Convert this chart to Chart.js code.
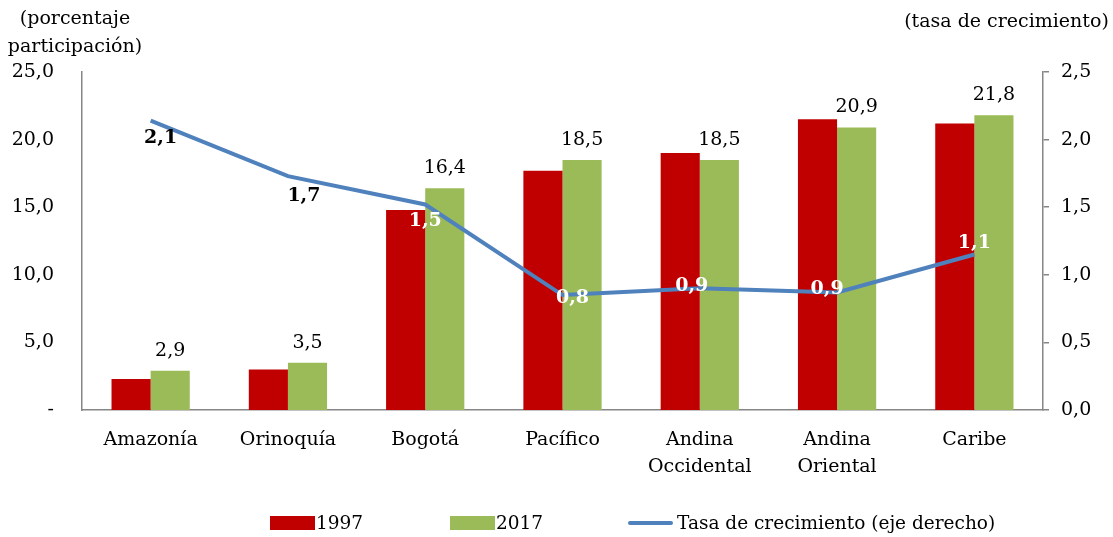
<!DOCTYPE html>
<html>
<head>
<meta charset="utf-8">
<script src="https://cdn.jsdelivr.net/npm/chart.js@4.4.0/dist/chart.umd.min.js"></script>
<style>
  body { margin: 0; background: #fff; }
  #wrap { position: relative; width: 1113px; height: 537px; font-family: "DejaVu Serif", serif; color: #000; }
  #chart { position: absolute; left: 0; top: 0; }
  .titulo { position: absolute; font-size: 19px; line-height: 28px; text-align: center; }
  .leyenda { position: absolute; top: 511px; font-size: 18.5px; line-height: 24px; }
  .caja { position: absolute; top: 5px; width: 45px; height: 14px; }
  .linea { position: absolute; top: 10px; width: 45px; height: 4px; background: #4F81BD; border-radius: 2px; }
</style>
</head>
<body>
<div id="wrap">
  <canvas id="chart" width="1113" height="537"></canvas>
  <div class="titulo" style="left:0px; top:3px; width:150px;">(porcentaje<br>participación)</div>
  <div class="titulo" style="left:900px; top:6px; width:213px;">(tasa de crecimiento)</div>
  <div class="leyenda" style="left:270px;"><span class="caja" style="left:0; background:#C00000;"></span><span style="position:absolute; left:46px;">1997</span></div>
  <div class="leyenda" style="left:450px;"><span class="caja" style="left:0; background:#9BBB59;"></span><span style="position:absolute; left:46px;">2017</span></div>
  <div class="leyenda" style="left:628px;"><span class="linea" style="left:0;"></span><span style="position:absolute; left:49px; white-space:nowrap;">Tasa de crecimiento (eje derecho)</span></div>
</div>
<script>
// datos
const categorias = ["Amazonía", "Orinoquía", "Bogotá", "Pacífico", ["Andina", "Occidental"], ["Andina", "Oriental"], "Caribe"];
const serie1997 = [2.3, 3.0, 14.8, 17.7, 19.0, 21.5, 21.2];
const serie2017 = [2.9, 3.5, 16.4, 18.5, 18.5, 20.9, 21.8];
const tasaCrecimiento = [2.14, 1.73, 1.52, 0.85, 0.90, 0.87, 1.15];
const tasaEtiquetas = ["2,1", "1,7", "1,5", "0,8", "0,9", "0,9", "1,1"];

const fuente = "DejaVu Serif";
const tam = 19;

// desplazamiento y color de las etiquetas de la linea (estilo, no datos)
const etiquetaOffsets = [[10, 17], [16, 20], [0, 17], [10, 3], [-8, -2], [-10, -3], [0, -11]];
const etiquetaColores = ["#000", "#000", "#fff", "#fff", "#fff", "#fff", "#fff"];

const coma = (v) => v.toFixed(1).replace(".", ",");

const etiquetasPlugin = {
  id: "etiquetas",
  afterDatasetsDraw(chart) {
    const ctx = chart.ctx;
    ctx.save();
    ctx.textAlign = "center";
    ctx.textBaseline = "middle";
    // valores sobre las barras 2017
    ctx.font = tam + "px '" + fuente + "'";
    ctx.fillStyle = "#000";
    chart.getDatasetMeta(1).data.forEach((bar, i) => {
      ctx.fillText(coma(serie2017[i]), bar.x, bar.y - 20);
    });
    // etiquetas de la tasa
    ctx.font = "bold " + tam + "px '" + fuente + "'";
    chart.getDatasetMeta(2).data.forEach((pt, i) => {
      ctx.fillStyle = etiquetaColores[i];
      ctx.fillText(tasaEtiquetas[i], pt.x + etiquetaOffsets[i][0], pt.y + etiquetaOffsets[i][1]);
    });
    ctx.restore();
  }
};

new Chart(document.getElementById("chart"), {
  type: "bar",
  data: {
    labels: categorias,
    datasets: [
      { label: "1997", data: serie1997, backgroundColor: "#C00000", yAxisID: "y", order: 2 },
      { label: "2017", data: serie2017, backgroundColor: "#9BBB59", yAxisID: "y", order: 2 },
      {
        type: "line", label: "Tasa de crecimiento (eje derecho)", data: tasaCrecimiento,
        borderColor: "#4F81BD", borderWidth: 4, pointRadius: 0, tension: 0, yAxisID: "y1", order: 1
      }
    ]
  },
  options: {
    responsive: false,
    animation: false,
    layout: { padding: { top: 72, bottom: 47, left: 0, right: 0 } },
    datasets: { bar: { categoryPercentage: 0.57, barPercentage: 1.0 } },
    plugins: { legend: { display: false }, tooltip: { enabled: false } },
    scales: {
      x: {
        grid: { display: false },
        border: { color: "#868686", width: 1.5 },
        ticks: { color: "#000", font: { family: fuente, size: tam, lineHeight: 1.4 }, padding: 9, maxRotation: 0, autoSkip: false },
        afterFit: (s) => { s.height = 80; }
      },
      y: {
        position: "left", min: 0, max: 25,
        grid: { display: false },
        border: { display: true, color: "#868686", width: 1.5 },
        ticks: {
          stepSize: 5, color: "#000", font: { family: fuente, size: tam }, padding: 20,
          callback: (v) => v === 0 ? "-" : coma(v)
        },
        afterFit: (s) => { s.width = 82; }
      },
      y1: {
        position: "right", min: 0, max: 2.5,
        grid: { drawOnChartArea: false, drawTicks: true, tickLength: 6, color: "#868686", lineWidth: 1.5 },
        border: { display: true, color: "#868686", width: 1.5 },
        ticks: {
          stepSize: 0.5, color: "#000", font: { family: fuente, size: tam }, padding: 12,
          callback: (v) => coma(v)
        },
        afterFit: (s) => { s.width = 70; }
      }
    }
  },
  plugins: [etiquetasPlugin]
});
</script>
</body>
</html>
